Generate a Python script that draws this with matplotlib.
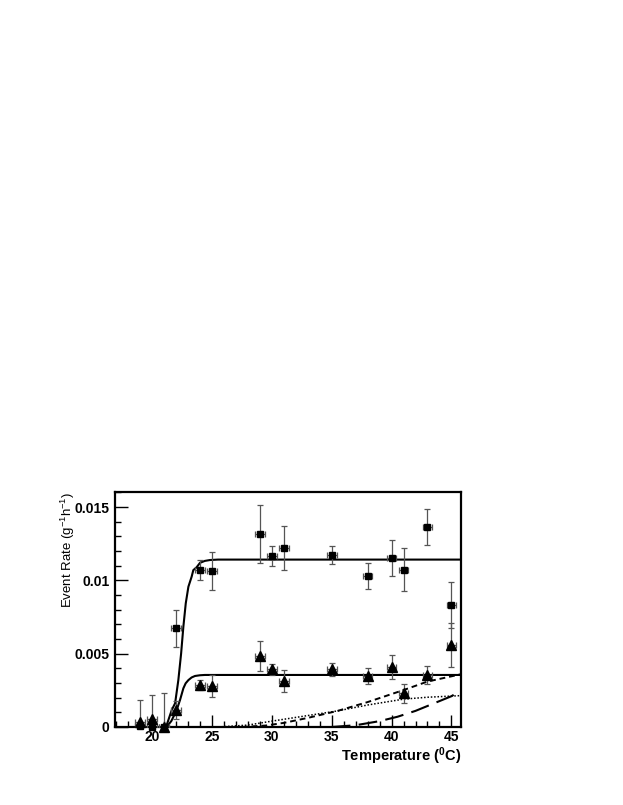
import matplotlib

matplotlib.use("Agg")
import matplotlib.pyplot as plt
from matplotlib.ticker import MultipleLocator, FixedFormatter, FixedLocator

# measured data: temperature (C), event rate (g^-1 h^-1), errors
temp_sq = [19, 20, 21, 22, 24, 25, 29, 30, 31, 35, 38, 40, 41, 43, 45]
rate_sq = [0.0001, 0.0, 0.0, 0.00673, 0.0107, 0.01064, 0.01316, 0.01166, 0.01223,
           0.01173, 0.01028, 0.01155, 0.01073, 0.01364, 0.00832]
err_sq = [0.0001, 0.0001, 0.0001, 0.00125, 0.00068, 0.00128, 0.0020, 0.00068, 0.0015,
          0.00064, 0.00088, 0.00124, 0.00146, 0.00122, 0.00156]

temp_tr = [19, 20, 21, 22, 24, 25, 29, 30, 31, 35, 38, 40, 41, 43, 45]
rate_tr = [0.00036, 0.00055, 0.0, 0.00116, 0.00286, 0.0028, 0.00484, 0.00394, 0.00314,
           0.00394, 0.00348, 0.00411, 0.0023, 0.00355, 0.0056]
err_tr_lo = [0.00036, 0.00055, 0.0, 0.0006, 0.00034, 0.00075, 0.0010, 0.00036, 0.00076,
             0.00045, 0.00053, 0.00082, 0.00066, 0.0006, 0.00148]
err_tr_hi = [0.00148, 0.00163, 0.0023, 0.0006, 0.00034, 0.00075, 0.0010, 0.00036, 0.00076,
             0.00045, 0.00053, 0.00082, 0.00066, 0.0006, 0.00148]
temp_err = 0.4

# fitted curves
fit_sq_x = [21.0, 21.22, 21.64, 21.92, 22.19, 22.42, 22.61, 22.81, 23.03, 23.3, 23.44,
            23.72, 24.0, 24.4, 24.83, 25.5, 45.8]
fit_sq_y = [0.0, 0.00014, 0.00116, 0.00162, 0.0032, 0.0050, 0.00684, 0.00844, 0.00957,
            0.01025, 0.0107, 0.0109, 0.0112, 0.01133, 0.01139, 0.01142, 0.01142]
fit_tr_x = [21.0, 21.3, 21.6, 21.92, 22.15, 22.33, 22.61, 22.8, 23.03, 23.3, 23.58,
            24.0, 24.4, 25.0, 45.8]
fit_tr_y = [0.0, 0.0001, 0.0004, 0.00093, 0.0014, 0.00184, 0.00264, 0.00298, 0.0032,
            0.00338, 0.00348, 0.00353, 0.00355, 0.00355, 0.00355]

dash_x = [27.5, 29.5, 31.0, 33.0, 35.5, 38.0, 41.0, 43.0, 45.8]
dash_y = [0.0, 0.0001, 0.00028, 0.00062, 0.0011, 0.0017, 0.00252, 0.0031, 0.0036]
dot_x = [25.5, 28.0, 30.0, 33.0, 35.5, 38.0, 41.0, 43.0, 45.8]
dot_y = [0.0, 0.00013, 0.0004, 0.00078, 0.0011, 0.0015, 0.0019, 0.00203, 0.00214]
ldash_x = [35.0, 37.0, 39.0, 40.5, 42.0, 43.5, 45.0, 45.8]
ldash_y = [0.0, 0.00012, 0.0004, 0.0007, 0.0011, 0.0016, 0.0021, 0.0025]

x_ticks = [20, 25, 30, 35, 40, 45]
y_ticks = [0, 0.005, 0.01, 0.015]
y_tick_labels = ["0", "0.005", "0.01", "0.015"]

plt.rcParams.update({
    "font.family": ["Liberation Sans", "DejaVu Sans"],
    "mathtext.default": "regular",
})

fig = plt.figure(figsize=(6.23, 8.05), dpi=100)
ax = fig.add_axes([0.1846, 0.0969, 0.5554, 0.2919])

ax.plot(fit_sq_x, fit_sq_y, color="black", lw=1.5, zorder=3)
ax.plot(fit_tr_x, fit_tr_y, color="black", lw=1.5, zorder=3)
ax.plot(dash_x, dash_y, color="black", lw=1.4, ls=(0, (3, 2)), zorder=3)
ax.plot(dot_x, dot_y, color="black", lw=1.1, ls=(0, (1, 1.2)), zorder=3)
ax.plot(ldash_x, ldash_y, color="black", lw=1.5, ls=(0, (9, 4)), zorder=3)

ebkw = dict(fmt="none", ecolor="#555555", elinewidth=0.9, capsize=2, capthick=0.9, zorder=4)
ax.errorbar(temp_sq, rate_sq, yerr=err_sq, xerr=temp_err, **ebkw)
ax.errorbar(temp_tr, rate_tr, yerr=[err_tr_lo, err_tr_hi], xerr=temp_err, **ebkw)
ax.plot(temp_sq, rate_sq, ls="none", marker="s", ms=5, color="black", zorder=5, clip_on=False)
ax.plot(temp_tr, rate_tr, ls="none", marker="^", ms=6.5, color="black", zorder=5, clip_on=False)

ax.set_xlim(16.9, 45.8)
ax.set_ylim(0, 0.01603)

ax.xaxis.set_major_locator(FixedLocator(x_ticks))
ax.xaxis.set_minor_locator(MultipleLocator(1))
ax.yaxis.set_major_locator(FixedLocator(y_ticks))
ax.yaxis.set_major_formatter(FixedFormatter(y_tick_labels))
ax.yaxis.set_minor_locator(MultipleLocator(0.001))
ax.tick_params(which="both", direction="in", top=False, right=False, width=1.0)
ax.tick_params(which="major", length=9)
ax.tick_params(which="minor", length=4.5)
ax.tick_params(axis="x", pad=2)
ax.tick_params(axis="y", pad=4)
for lab in ax.get_xticklabels() + ax.get_yticklabels():
    lab.set_fontsize(10)
    lab.set_fontweight("bold")
for sp in ax.spines.values():
    sp.set_linewidth(1.6)

ax.set_xlabel("Temperature ($^{0}$C)", fontsize=10.5, fontweight="bold", loc="right", labelpad=1)
ax.set_ylabel("Event Rate (g$^{-1}$h$^{-1}$)", fontsize=9.5, loc="top", labelpad=-2)

fig.savefig("out.png", dpi=100)
